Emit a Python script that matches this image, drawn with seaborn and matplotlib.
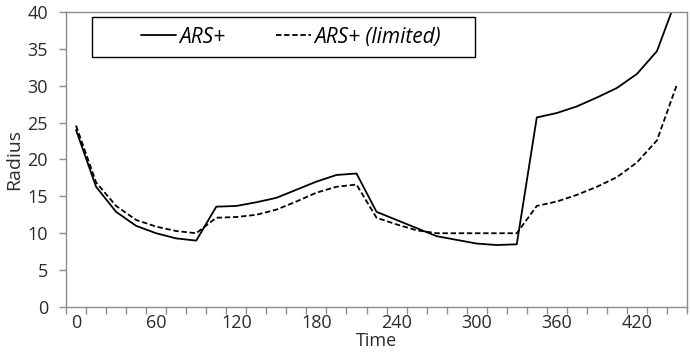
import numpy as np
import pandas as pd
import matplotlib
matplotlib.use("Agg")
import matplotlib.pyplot as plt
import seaborn as sns
from matplotlib.patches import Rectangle

# time steps (one category every 15)
time = list(range(0, 451, 15))

ars_plus = [24.0, 16.3, 12.9, 11.0, 10.0, 9.3, 9.0, 13.6, 13.7, 14.2,
            14.8, 15.9, 17.0, 17.9, 18.1, 12.9, 11.8, 10.7, 9.6, 9.1,
            8.6, 8.4, 8.5, 25.7, 26.3, 27.2, 28.4, 29.7, 31.6, 34.7, 42.0]
ars_limited = [24.6, 16.9, 13.7, 11.8, 10.9, 10.3, 10.0, 12.1, 12.2, 12.5,
               13.2, 14.3, 15.5, 16.3, 16.6, 12.1, 11.2, 10.4, 10.0, 10.0,
               10.0, 10.0, 10.0, 13.7, 14.3, 15.2, 16.3, 17.6, 19.6, 22.6, 30.2]

df = pd.DataFrame({"Time": time, "ARS+": ars_plus, "ARS+ (limited)": ars_limited})

sns.set_style("white")
plt.rcParams["font.family"] = ["Open Sans", "DejaVu Sans"]

grey = "#8c8c8c"
txt = "#2b2b2b"

fig = plt.figure(figsize=(6.9, 3.58), dpi=100)
ax = fig.add_axes([0.0957, 0.1425, 0.9, 0.824])

sns.lineplot(data=df, x="Time", y="ARS+", ax=ax, color="black", lw=1.3, label="ARS+")
sns.lineplot(data=df, x="Time", y="ARS+ (limited)", ax=ax, color="black", lw=1.3,
             linestyle=(0, (3, 1.5)), label="ARS+ (limited)")

ax.set_xlim(-7.5, 457.5)
ax.set_ylim(0, 40)
ax.set_yticks(range(0, 41, 5))
ax.set_xticks(range(0, 421, 60))
ax.set_xticks(np.arange(-7.5, 458, 15), minor=True)

for s in ax.spines.values():
    s.set_color(grey)
    s.set_linewidth(1.0)

ax.tick_params(axis="y", which="major", direction="out", length=5, width=1,
               color=grey, labelcolor=txt, labelsize=13, pad=8, left=True)
ax.tick_params(axis="x", which="major", length=0, labelcolor=txt, labelsize=13, pad=5)
ax.tick_params(axis="x", which="minor", direction="out", length=5, width=1,
               color=grey, bottom=True)

ax.set_xlabel("Time", fontsize=13, color=txt, labelpad=0)
ax.set_ylabel("Radius", fontsize=14, color=txt, labelpad=3)

leg = ax.legend(loc="center", bbox_to_anchor=(0.362, 0.915), ncol=2, frameon=False,
                handlelength=1.7, handletextpad=0.15, columnspacing=2.4,
                prop={"style": "italic", "size": 15})
for t in leg.get_texts():
    t.set_color("black")
ax.add_patch(Rectangle((0.0419, 0.847), 0.6167, 0.136, transform=ax.transAxes,
                       fill=False, edgecolor="black", lw=1.0, zorder=5))

fig.savefig("out.png", dpi=100)
